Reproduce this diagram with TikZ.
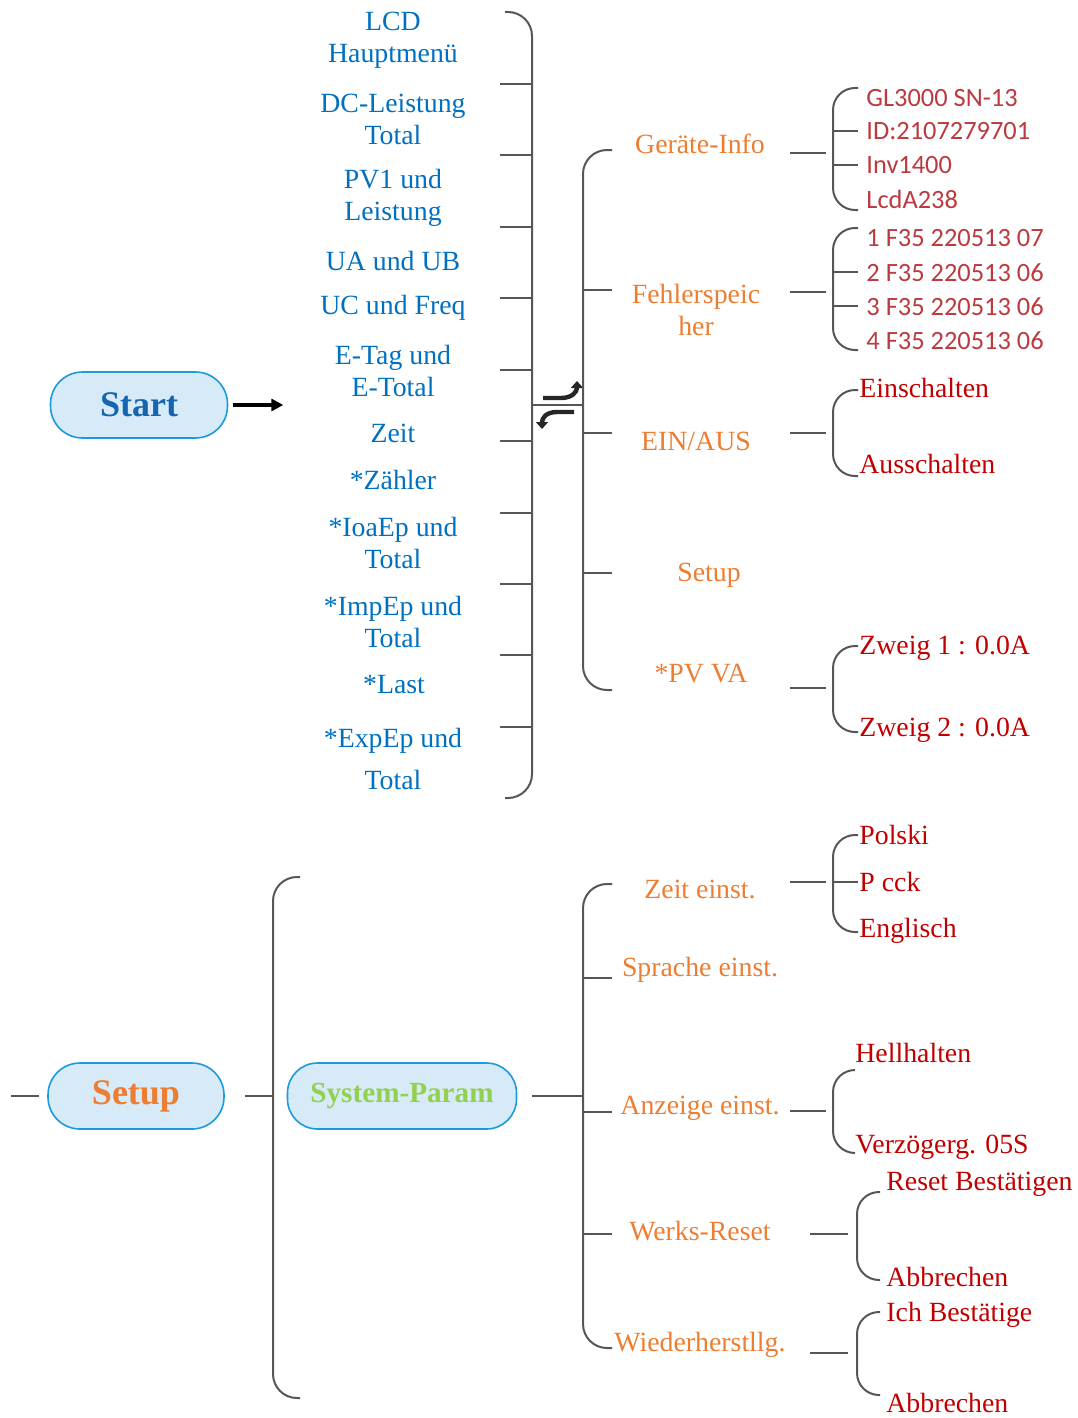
\documentclass[tikz,border=0pt]{standalone}
\usepackage{fontspec}
\setmainfont{Liberation Serif}
\newfontfamily\infofont{Carlito}
\usetikzlibrary{arrows.meta,positioning}
\definecolor{ink}{HTML}{5A5555}
\definecolor{menublue}{HTML}{0070C0}
\definecolor{startblue}{HTML}{1565B0}
\definecolor{boxfill}{HTML}{D6EAF8}
\definecolor{boxline}{HTML}{1A9BDB}
\definecolor{tangerine}{HTML}{ED7D31}
\definecolor{crimson}{HTML}{C00000}
\definecolor{rosered}{HTML}{BA3A3F}
\definecolor{leaf}{HTML}{92D050}

\begin{document}
\begin{tikzpicture}[x=0.5pt, y=-0.5pt,
  every node/.style={font=\fontsize{13.9}{16}\selectfont, inner sep=0pt},
  menubox/.style={draw=boxline, line width=0.8pt, fill=boxfill, rounded corners=16pt, minimum height=33pt},
  lcd/.style={text=menublue, align=center, yshift=-1pt},
  sub/.style={text=tangerine, align=center, yshift=-1pt},
  leafitem/.style={text=crimson, anchor=west},
  info/.style={text=rosered, anchor=west, font=\infofont\fontsize{13.2}{16}\selectfont},
  brk/.style={draw=ink, line width=1pt, rounded corners=12pt},
  link/.style={draw=ink, line width=1pt},
  flip/.style={-{Triangle[length=3.5pt,width=6pt]}, line width=2.2pt, color=black!85}
]
\useasboundingbox (0,0) rectangle (1077,1418);

% --- panel 1: START MENU
\node[menubox, minimum width=88.5pt, text=startblue, font=\bfseries\fontsize{18}{20}\selectfont] (start) at (139,405) {Start};
\draw[-{Triangle[length=6pt,width=6pt]}, line width=1.6pt] ([xshift=2.5pt]start.east) -- ++(50,0);

\node[lcd] (l1)  at (393,38)  {LCD\\Hauptmenü};
\node[lcd] (l2)  at (393,117) {DC-Leistung\\Total};
\node[lcd] (l3)  at (393,196) {PV1 und\\Leistung};
\node[lcd] (l4)  at (393,259) {UA und UB};
\node[lcd] (l5)  at (393,306) {UC und Freq};
\node[lcd] (l6)  at (393,369) {E-Tag und\\E-Total};
\node[lcd] (l7)  at (393,431) {Zeit};
\node[lcd] (l8)  at (393,478) {*Zähler};
\node[lcd] (l9)  at (393,541) {*IoaEp und\\Total};
\node[lcd] (l10) at (393,620) {*ImpEp und\\Total};
\node[lcd] (l11) at (394,683) {*Last};
\node[lcd] (l12) at (393,757) {*ExpEp und\\[5pt]Total};

\draw[brk] (505,12) -| (532,798) -- (505,798);
\foreach \y in {84,155,227,298,370,441,513,584,655,727}
  \draw[link] (500,\y) -- (532,\y);

% page turn between the two lists
\draw[link] (532,405) -- (583,405);
\draw[flip] (543,398) -- (561,398) .. controls (572,398) and (577,392) .. (577,381);
\draw[flip] (574,412) -- (557,412) .. controls (546,412) and (542,418) .. (542,429);

% --- panel 2: MAIN MENU
\draw[brk] (612,150) -| (583,690) -- (612,690);
\foreach \y in {290,433,573}
  \draw[link] (583,\y) -- (612,\y);

\node[sub] (m1) at (700,142) {Geräte-Info};
\node[sub] (m2) at (696,308) {Fehlerspeic\\her};
\node[sub] (m3) at (696,439) {EIN/AUS};
\node[sub] (m4) at (709,573) {Setup};
\node[sub] (m5) at (701,672) {*PV VA};

\foreach \y in {153,292,433,688}
  \draw[link] (790,\y) -- (826,\y);

% device info
\draw[brk, rounded corners=11pt] (858,88) -| (833,210) -- (858,210);
\draw[link] (833,131) -- (858,131);
\draw[link] (833,165) -- (858,165);
\node[info] (d1) at (866,98)  {GL3000 SN-13};
\node[info] (d2) at (866,131) {ID:2107279701};
\node[info] (d3) at (866,165) {Inv1400};
\node[info] (d4) at (866,199) {LcdA238};

% error log
\draw[brk, rounded corners=11pt] (858,228) -| (833,350) -- (858,350);
\draw[link] (833,272) -- (858,272);
\draw[link] (833,306) -- (858,306);
\node[info] (e1) at (866,238) {1 F35 220513 07};
\node[info] (e2) at (866,273) {2 F35 220513 06};
\node[info] (e3) at (866,307) {3 F35 220513 06};
\node[info] (e4) at (866,341) {4 F35 220513 06};

% on / off
\draw[brk, rounded corners=11pt] (858,390) -| (833,476) -- (858,476);
\node[leafitem] (o1) at (859,388) {Einschalten};
\node[leafitem] (o2) at (859,464) {Ausschalten};

% pv strings
\draw[brk, rounded corners=11pt] (858,646) -| (833,732) -- (858,732);
\node[leafitem] (p1) at (859,648) {Zweig 1 : 0.0A};
\node[leafitem] (p2) at (859,730) {Zweig 2 : 0.0A};

% --- panel 3: SETUP
\node[menubox, minimum width=88pt, text=tangerine, font=\bfseries\fontsize{18}{20}\selectfont] (setup) at (136,1096) {Setup};
\draw[link] ([xshift=-4pt]setup.west) -- ++(-28,0);
\draw[link] ([xshift=10pt]setup.east) -- ++(29,0);
\draw[brk] (300,877) -| (273,1398) -- (300,1398);

\node[menubox, minimum width=114.5pt, rounded corners=15pt, text=leaf, font=\bfseries\fontsize{14.6}{16}\selectfont] (sys) at (402,1096) {System-Param};
\draw[link] ([xshift=7.5pt]sys.east) -- ++(51,0);

\draw[brk] (612,884) -| (583,1348) -- (612,1348);
\foreach \y in {978,1112,1234}
  \draw[link] (583,\y) -- (612,\y);

\node[sub] (s1) at (700,887)  {Zeit einst.};
\node[sub] (s2) at (700,968)  {Sprache einst.};
\node[sub] (s3) at (700,1106) {Anzeige einst.};
\node[sub] (s4) at (700,1229) {Werks-Reset};
\node[sub] (s5) at (700,1343) {Wiederherstllg.};

\draw[link] (790,882)  -- (826,882);
\draw[link] (790,1111) -- (826,1111);
\draw[link] (810,1234) -- (848,1234);
\draw[link] (810,1353) -- (848,1353);

% language
\draw[brk, rounded corners=11pt] (858,835) -| (833,932) -- (858,932);
\draw[link] (833,882) -- (858,882);
\node[leafitem] (g1) at (859,835) {Polski};
\node[leafitem] (g2) at (859,882) {P cck};
\node[leafitem] (g3) at (859,931) {Englisch};

% display
\draw[brk, rounded corners=11pt] (855,1070) -| (833,1153) -- (855,1153);
\node[leafitem] (a1) at (855,1053) {Hellhalten};
\node[leafitem] (a2) at (855,1147) {Verzögerg. 05S};

% factory reset
\draw[brk, rounded corners=11pt] (880,1192) -| (857,1280) -- (880,1280);
\node[leafitem] (w1) at (886,1184) {Reset Bestätigen};
\node[leafitem] (w2) at (886,1277) {Abbrechen};

% restore
\draw[brk, rounded corners=11pt] (880,1312) -| (857,1395) -- (880,1395);
\node[leafitem] (r1) at (886,1315) {Ich Bestätige};
\node[leafitem] (r2) at (886,1403) {Abbrechen};

\end{tikzpicture}
\end{document}
